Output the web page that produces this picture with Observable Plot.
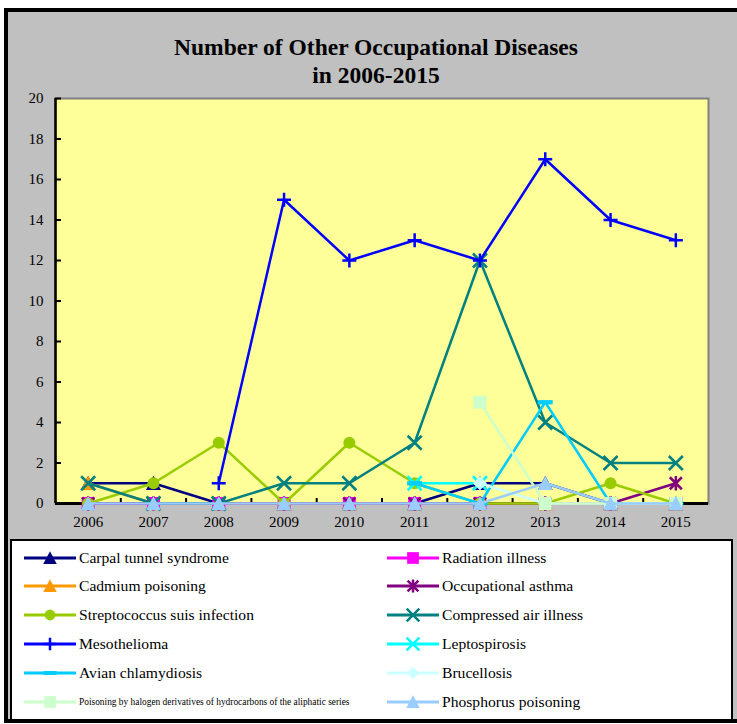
<!DOCTYPE html>
<html><head><meta charset="utf-8">
<script src="https://cdn.jsdelivr.net/npm/d3@7"></script>
<script src="https://cdn.jsdelivr.net/npm/@observablehq/plot@0.6"></script>
<style>
html,body{margin:0;padding:0;background:#fff;overflow:hidden;width:737px;height:724px;font-family:"Liberation Serif","Times New Roman",serif;}
#frame{position:absolute;left:4px;top:8px;width:760px;height:707px;background:#C0C0C0;border-left:4px solid #000;border-top:4px solid #000;border-bottom:4px solid #000;}
#title{position:absolute;left:4px;width:744px;top:33px;text-align:center;font-weight:bold;font-size:23.5px;line-height:28px;color:#000;}
#chart{position:absolute;left:0;top:0;}
#legend{position:absolute;left:10px;top:539px;width:723px;height:182px;box-sizing:border-box;background:#fff;border:2px solid #000;}
.item{position:absolute;height:20px;display:flex;align-items:center;white-space:nowrap;color:#000;font-size:15.6px;}
.item svg{margin-right:3px;}
</style></head>
<body>
<div id="frame"></div>
<div id="title">Number of Other Occupational Diseases<br>in 2006-2015</div>
<div id="chart"></div>
<div id="legend"></div>
<script>
// ---- data ----
const years = [2006, 2007, 2008, 2009, 2010, 2011, 2012, 2013, 2014, 2015];
const yTicks = [0, 2, 4, 6, 8, 10, 12, 14, 16, 18, 20];
const seriesNames = [
  "Carpal tunnel syndrome", "Radiation illness", "Cadmium poisoning", "Occupational asthma",
  "Streptococcus suis infection", "Compressed air illness", "Mesothelioma", "Leptospirosis",
  "Avian chlamydiosis", "Brucellosis",
  "Poisoning by halogen derivatives of hydrocarbons of the aliphatic series", "Phosphorus poisoning"
];
const carpal      = [1, 1, 0, 0, 0, 0, 1, 1, 0, 0];
const radiation   = [0, 0, 0, 0, 0, 0, 0, 0, 0, 0];
const cadmium     = [1, 0, 0, 0, 0, 0, 0, 0, 0, 0];
const asthma      = [0, 0, 0, 0, 0, 0, 0, 0, 0, 1];
const strep       = [0, 1, 3, 0, 3, 1, 0, 0, 1, 0];
const compressed  = [1, 0, 0, 1, 1, 3, 12, 4, 2, 2];
const meso        = [null, null, 1, 15, 12, 13, 12, 17, 14, 13];
const lepto       = [null, null, null, null, null, 1, 1, null, null, null];
const avian       = [null, null, null, null, null, 1, 0, 5, 0, 0];
const brucellosis = [null, null, null, null, null, null, 1, 0, 0, 0];
const halogen     = [null, null, null, null, null, null, 5, 0, 0, 0];
const phosphorus  = [0, 0, 0, 0, 0, 0, 0, 1, 0, 0];
const seriesValues = [carpal, radiation, cadmium, asthma, strep, compressed, meso, lepto, avian, brucellosis, halogen, phosphorus];

// ---- styles ----
const seriesColors = ["#000080", "#FF00FF", "#FF9900", "#800080", "#99CC00", "#008080", "#0000FF", "#00FFFF", "#00CCFF", "#CCFFFF", "#CCFFCC", "#99CCFF"];
const seriesSymbols = ["triangle", "square", "triangle", "asterisk", "circle", "times", "plus", "times", "dash", "diamond", "square", "triangle"];
const symbolSize = {triangle: 7.5, square: 6.5, asterisk: 6, circle: 6, times: 7, plus: 7, dash: 7.5, diamond: 7};
const stroked = new Set(["asterisk", "times", "plus"]);

const H = s => Math.sqrt(s / Math.PI);
const symbols = {
  triangle: {draw(c, s) { const h = H(s); c.moveTo(0, -h); c.lineTo(h, h * 0.9); c.lineTo(-h, h * 0.9); c.closePath(); }},
  square: {draw(c, s) { const h = H(s); c.rect(-h, -h, 2 * h, 2 * h); }},
  circle: {draw(c, s) { const h = H(s); c.moveTo(h, 0); c.arc(0, 0, h, 0, 2 * Math.PI); }},
  diamond: {draw(c, s) { const h = H(s); c.moveTo(0, -h); c.lineTo(h, 0); c.lineTo(0, h); c.lineTo(-h, 0); c.closePath(); }},
  times: {draw(c, s) { const h = H(s); c.moveTo(-h, -h); c.lineTo(h, h); c.moveTo(h, -h); c.lineTo(-h, h); }},
  plus: {draw(c, s) { const h = H(s); c.moveTo(-h, 0); c.lineTo(h, 0); c.moveTo(0, -h); c.lineTo(0, h); }},
  asterisk: {draw(c, s) { const h = H(s); c.moveTo(-h, -h); c.lineTo(h, h); c.moveTo(h, -h); c.lineTo(-h, h); c.moveTo(0, -h * 1.2); c.lineTo(0, h * 1.2); }},
  dash: {draw(c, s) { const h = H(s); c.rect(-h, -h / 3.5, 2 * h, 2 * h / 3.5); }}
};

const xDomain = [years[0] - 0.5, years[years.length - 1] + 0.5];
const xTickMarks = years.slice(1).map(y => y - 0.5);

const marks = [
  Plot.frame({fill: "#FFFF99", stroke: "#808080", strokeWidth: 2}),
  Plot.axisY({ticks: yTicks, label: null, tickSize: -6, tickPadding: 18, strokeWidth: 2, stroke: "#000", color: "#000", fontSize: 15}),
  Plot.axisX({ticks: xTickMarks, label: null, tickSize: -5, strokeWidth: 2, stroke: "#000", tickFormat: () => ""}),
  Plot.axisX({ticks: years, label: null, tickSize: 0, tickPadding: 13, color: "#000", fontSize: 15, tickFormat: d => String(d)}),
  Plot.ruleX([xDomain[0]], {stroke: "#000", strokeWidth: 2.5}),
  Plot.ruleY([0], {stroke: "#000", strokeWidth: 3})
];
seriesValues.forEach((vals, i) => {
  const rows = years.map((year, j) => ({year, value: vals[j]}));
  const color = seriesColors[i];
  const sname = seriesSymbols[i];
  marks.push(Plot.line(rows, {x: "year", y: "value", stroke: color, strokeWidth: 2.5}));
  if (stroked.has(sname)) {
    marks.push(Plot.dot(rows, {x: "year", y: "value", symbol: symbols[sname], r: symbolSize[sname], fill: "none", stroke: color, strokeWidth: 2.5}));
  } else {
    marks.push(Plot.dot(rows, {x: "year", y: "value", symbol: symbols[sname], r: symbolSize[sname], fill: color, stroke: "none"}));
  }
});

const chart = Plot.plot({
  width: 737, height: 540,
  marginTop: 98, marginBottom: 37, marginLeft: 55, marginRight: 29,
  style: {background: "transparent", overflow: "visible", fontFamily: "Liberation Serif, serif", fontSize: "15px", color: "#000"},
  x: {type: "linear", domain: xDomain, axis: null, label: null},
  y: {domain: [0, 20], axis: null, label: null},
  marks
});
document.getElementById("chart").appendChild(chart);

// ---- legend ----
const legend = document.getElementById("legend");
const rowY = [17, 45, 74, 103, 132, 161];
seriesNames.forEach((name, i) => {
  const col = i % 2, row = Math.floor(i / 2);
  const item = document.createElement("div");
  item.className = "item";
  item.style.left = (col === 0 ? 12 : 375) + "px";
  item.style.top = (rowY[row] - 10) + "px";
  if (i === 10) item.style.fontSize = "9.4px";
  const svg = d3.create("svg").attr("width", 52).attr("height", 20);
  const color = seriesColors[i], sname = seriesSymbols[i];
  svg.append("line").attr("x1", 0).attr("x2", 52).attr("y1", 10).attr("y2", 10).attr("stroke", color).attr("stroke-width", 3);
  const r = symbolSize[sname] * 0.9;
  const p = svg.append("path").attr("transform", "translate(26,10)")
    .attr("d", d3.symbol(symbols[sname], Math.PI * r * r)());
  if (stroked.has(sname)) p.attr("fill", "none").attr("stroke", color).attr("stroke-width", 2.5);
  else p.attr("fill", color);
  item.appendChild(svg.node());
  const span = document.createElement("span");
  span.textContent = name;
  item.appendChild(span);
  legend.appendChild(item);
});
</script>
</body></html>
